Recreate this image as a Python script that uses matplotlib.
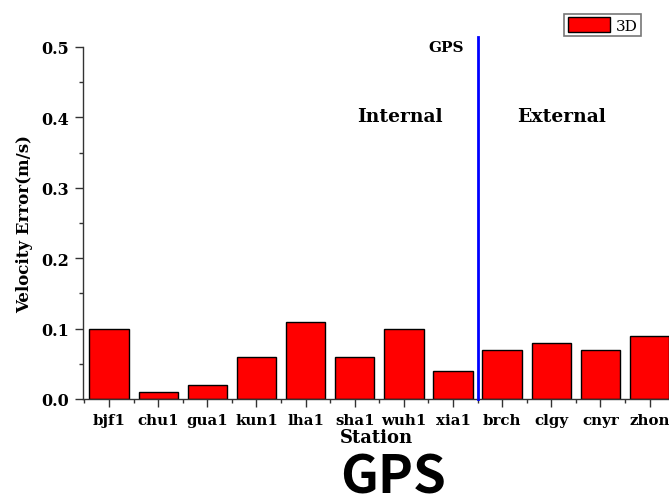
import matplotlib
matplotlib.use("Agg")
import matplotlib.pyplot as plt
from matplotlib.ticker import FixedLocator
from matplotlib.patches import Patch

stations = ["bjf1", "chu1", "gua1", "kun1", "lha1", "sha1", "wuh1", "xia1",
            "brch", "clgy", "cnyr", "zhon"]
velocity_error_3d = [0.10, 0.01, 0.02, 0.06, 0.11, 0.06, 0.10, 0.04,
                     0.07, 0.08, 0.07, 0.09]
y_ticks = [0.0, 0.1, 0.2, 0.3, 0.4, 0.5]
n_internal = 8

serif = ["DejaVu Serif"]
W, H = 669, 502
fig = plt.figure(figsize=(W / 100, H / 100), dpi=100)
ax = fig.add_axes([83 / W, 1 - 400 / H, (W - 83) / W + 0.001, (400 - 48) / H])

x = list(range(len(stations)))
ax.bar(x, velocity_error_3d, width=0.8, color="#ff0000", edgecolor="black",
       linewidth=1.0, label="3D", zorder=2)

ax.set_xlim(-0.53, 11.41)
ax.set_ylim(0, 0.5)

for s in ["top", "right"]:
    ax.spines[s].set_visible(False)
for s in ["left", "bottom"]:
    ax.spines[s].set_linewidth(1.0)
    ax.spines[s].set_color("#333333")

ax.set_yticks(y_ticks)
ax.set_yticklabels([f"{v:.1f}" for v in y_ticks])
ax.yaxis.set_minor_locator(FixedLocator([v + 0.05 for v in y_ticks[:-1]]))
ax.set_xticks(x)
ax.set_xticklabels(stations)
ax.xaxis.set_minor_locator(FixedLocator([i + 0.5 for i in range(-1, len(stations))]))
ax.tick_params(axis="both", which="major", direction="out", length=6, width=1,
               color="#333333", pad=4)
ax.tick_params(axis="both", which="minor", direction="out", length=3, width=1,
               color="#333333")
for lab in ax.get_yticklabels():
    lab.set_fontfamily(serif)
    lab.set_fontweight("bold")
    lab.set_fontsize(11.5)
for lab in ax.get_xticklabels():
    lab.set_fontfamily(serif)
    lab.set_fontweight("bold")
    lab.set_fontsize(10.8)

ax.set_xlabel("Station", family=serif, fontweight="bold", fontsize=13, labelpad=1)
ax.set_ylabel("Velocity Error(m/s)", family=serif, fontweight="bold", fontsize=12,
              labelpad=6)

# divider between internal and external stations
sep = n_internal - 0.5
ax.plot([sep, sep], [0, 0.514], color="#0000ff", linewidth=2, clip_on=False, zorder=3)
ax.text(sep - 0.28, 0.5, "GPS", family=serif, fontweight="bold", fontsize=11,
        ha="right", va="center")
ax.text(5.92, 0.402, "Internal", family=serif, fontweight="bold", fontsize=13.5,
        ha="center", va="center")
ax.text(9.2, 0.402, "External", family=serif, fontweight="bold", fontsize=13.5,
        ha="center", va="center")

leg = ax.legend(handles=[Patch(facecolor="#ff0000", edgecolor="black", label="3D")],
                loc="upper right", bbox_to_anchor=(641 / W, 1 - 15 / H),
                bbox_transform=fig.transFigure, frameon=True, fancybox=False,
                handlelength=2.8, handleheight=1.1, borderpad=0.22, borderaxespad=0,
                handletextpad=0.35, prop={"family": serif, "size": 11})
leg.get_frame().set_edgecolor("#555555")
leg.get_frame().set_linewidth(1.2)

fig.text(393 / W, 1 - 494 / H, "GPS", ha="center", va="baseline",
         family=["Noto Sans CJK SC", "DejaVu Sans"], fontweight="bold", fontsize=38)

fig.savefig("out.png", dpi=100)
